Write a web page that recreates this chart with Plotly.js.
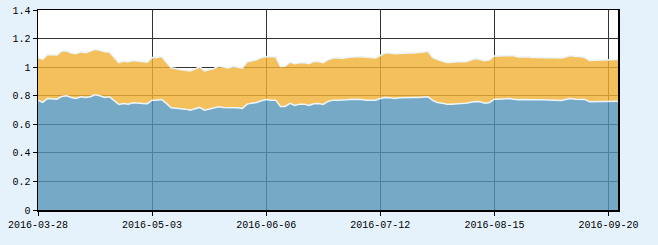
<!DOCTYPE html>
<html>
<head>
<meta charset="utf-8">
<script src="https://cdn.plot.ly/plotly-3.0.1.min.js"></script>
<style>
html,body{margin:0;padding:0;background:#e6f2fb;}
#chart{width:658px;height:245px;}
</style>
</head>
<body>
<div id="chart"></div>
<script>
var dates = [
"2016-03-28","2016-03-29","2016-03-30","2016-03-31","2016-04-01",
"2016-04-05","2016-04-06","2016-04-07","2016-04-08",
"2016-04-11","2016-04-12","2016-04-13","2016-04-14","2016-04-15",
"2016-04-18","2016-04-19","2016-04-20","2016-04-21","2016-04-22",
"2016-04-25","2016-04-26","2016-04-27","2016-04-28","2016-04-29",
"2016-05-03","2016-05-04","2016-05-05","2016-05-06",
"2016-05-09","2016-05-10","2016-05-11","2016-05-12","2016-05-13",
"2016-05-16","2016-05-17","2016-05-18","2016-05-19","2016-05-20",
"2016-05-23","2016-05-24","2016-05-25","2016-05-26","2016-05-27",
"2016-05-30","2016-05-31","2016-06-01","2016-06-02","2016-06-03",
"2016-06-06","2016-06-07","2016-06-08",
"2016-06-13","2016-06-14","2016-06-15","2016-06-16","2016-06-17",
"2016-06-20","2016-06-21","2016-06-22","2016-06-23","2016-06-24",
"2016-06-27","2016-06-28","2016-06-29","2016-06-30","2016-07-01",
"2016-07-04","2016-07-05","2016-07-06","2016-07-07","2016-07-08",
"2016-07-11","2016-07-12","2016-07-13","2016-07-14","2016-07-15",
"2016-07-18","2016-07-19","2016-07-20","2016-07-21","2016-07-22",
"2016-07-25","2016-07-26","2016-07-27","2016-07-28","2016-07-29",
"2016-08-01","2016-08-02","2016-08-03","2016-08-04","2016-08-05",
"2016-08-08","2016-08-09","2016-08-10","2016-08-11","2016-08-12",
"2016-08-15","2016-08-16","2016-08-17","2016-08-18","2016-08-19",
"2016-08-22","2016-08-23","2016-08-24","2016-08-25","2016-08-26",
"2016-08-29","2016-08-30","2016-08-31","2016-09-01","2016-09-02",
"2016-09-05","2016-09-06","2016-09-07","2016-09-08","2016-09-09",
"2016-09-12","2016-09-13","2016-09-14",
"2016-09-19","2016-09-20","2016-09-21","2016-09-22"
];

var lower = [
0.769,0.753,0.781,0.781,0.776,0.795,0.800,0.788,0.781,0.793,
0.788,0.793,0.807,0.800,0.788,0.793,0.765,0.739,0.746,0.741,
0.751,0.746,0.746,0.744,0.769,0.769,0.774,0.746,0.715,0.713,
0.711,0.706,0.699,0.711,0.718,0.699,0.706,0.718,0.722,0.718,
0.718,0.720,0.715,0.711,0.741,0.748,0.753,0.765,0.774,0.769,
0.769,0.725,0.725,0.746,0.732,0.741,0.741,0.732,0.744,0.746,
0.739,0.760,0.769,0.769,0.769,0.772,0.776,0.776,0.774,0.769,
0.769,0.769,0.781,0.788,0.786,0.781,0.786,0.788,0.788,0.788,
0.788,0.788,0.793,0.767,0.753,0.748,0.741,0.741,0.746,0.746,
0.748,0.753,0.760,0.758,0.748,0.753,0.776,0.776,0.779,0.781,
0.776,0.772,0.774,0.772,0.772,0.772,0.772,0.772,0.772,0.769,
0.767,0.774,0.781,0.776,0.776,0.774,0.758,0.758,0.758,0.760,
0.758,0.762,0.762
];

var total = [
1.066,1.056,1.089,1.089,1.085,1.113,1.113,1.099,1.094,1.108,
1.101,1.113,1.125,1.118,1.108,1.106,1.066,1.031,1.042,1.038,
1.047,1.042,1.042,1.035,1.068,1.068,1.075,1.031,0.995,0.991,
0.981,0.979,0.974,0.986,1.003,0.974,0.981,0.991,1.008,1.000,
0.995,1.005,1.000,0.995,1.038,1.047,1.052,1.068,1.075,1.073,
1.073,1.005,1.007,1.035,1.024,1.031,1.033,1.024,1.040,1.040,
1.031,1.052,1.064,1.066,1.061,1.068,1.073,1.073,1.073,1.068,
1.068,1.064,1.082,1.099,1.099,1.094,1.096,1.099,1.099,1.099,
1.101,1.106,1.112,1.068,1.053,1.042,1.033,1.035,1.038,1.040,
1.038,1.049,1.061,1.054,1.045,1.052,1.078,1.078,1.082,1.082,
1.080,1.071,1.071,1.073,1.068,1.068,1.068,1.068,1.068,1.068,
1.064,1.071,1.082,1.075,1.075,1.068,1.047,1.049,1.049,1.052,
1.052,1.054,1.054
];

var tickIdx = [0,24,48,72,96,120];
var tickDates = tickIdx.map(function(i){return dates[i];});

var traces = [
  {x: dates, y: lower, type:'scatter', mode:'lines', fill:'tozeroy',
   fillcolor:'rgba(83,148,184,0.8)',
   line:{color:'rgba(235,245,252,1)', width:1.5}, hoverinfo:'skip'},
  {x: dates, y: total, type:'scatter', mode:'lines', fill:'tonexty',
   fillcolor:'rgba(241,176,51,0.8)',
   line:{color:'rgba(235,245,252,1)', width:1.5}, hoverinfo:'skip'}
];

var layout = {
  width:658, height:245,
  margin:{l:38, r:40, t:10, b:35, pad:0},
  paper_bgcolor:'#e6f2fb',
  plot_bgcolor:'#ffffff',
  showlegend:false,
  font:{family:'"Liberation Mono","DejaVu Sans Mono",monospace', size:10, color:'#000'},
  xaxis:{
    type:'category', range:[0, dates.length-1],
    tickmode:'array', tickvals:tickDates, ticktext:tickDates,
    ticks:'outside', ticklen:4, tickcolor:'#000', tickwidth:1,
    showgrid:true, gridcolor:'#333', gridwidth:1,
    showline:true, linecolor:'#000', linewidth:1.5, mirror:true,
    zeroline:false, tickangle:0
  },
  yaxis:{
    range:[0,1.4], dtick:0.2, tick0:0,
    ticks:'outside', ticklen:4, tickcolor:'#000', tickwidth:1,
    showgrid:true, gridcolor:'#333', gridwidth:1,
    showline:true, linecolor:'#000', linewidth:1.5, mirror:true,
    zeroline:false
  }
};

Plotly.newPlot('chart', traces, layout, {staticPlot:true, displayModeBar:false});
</script>
</body>
</html>
